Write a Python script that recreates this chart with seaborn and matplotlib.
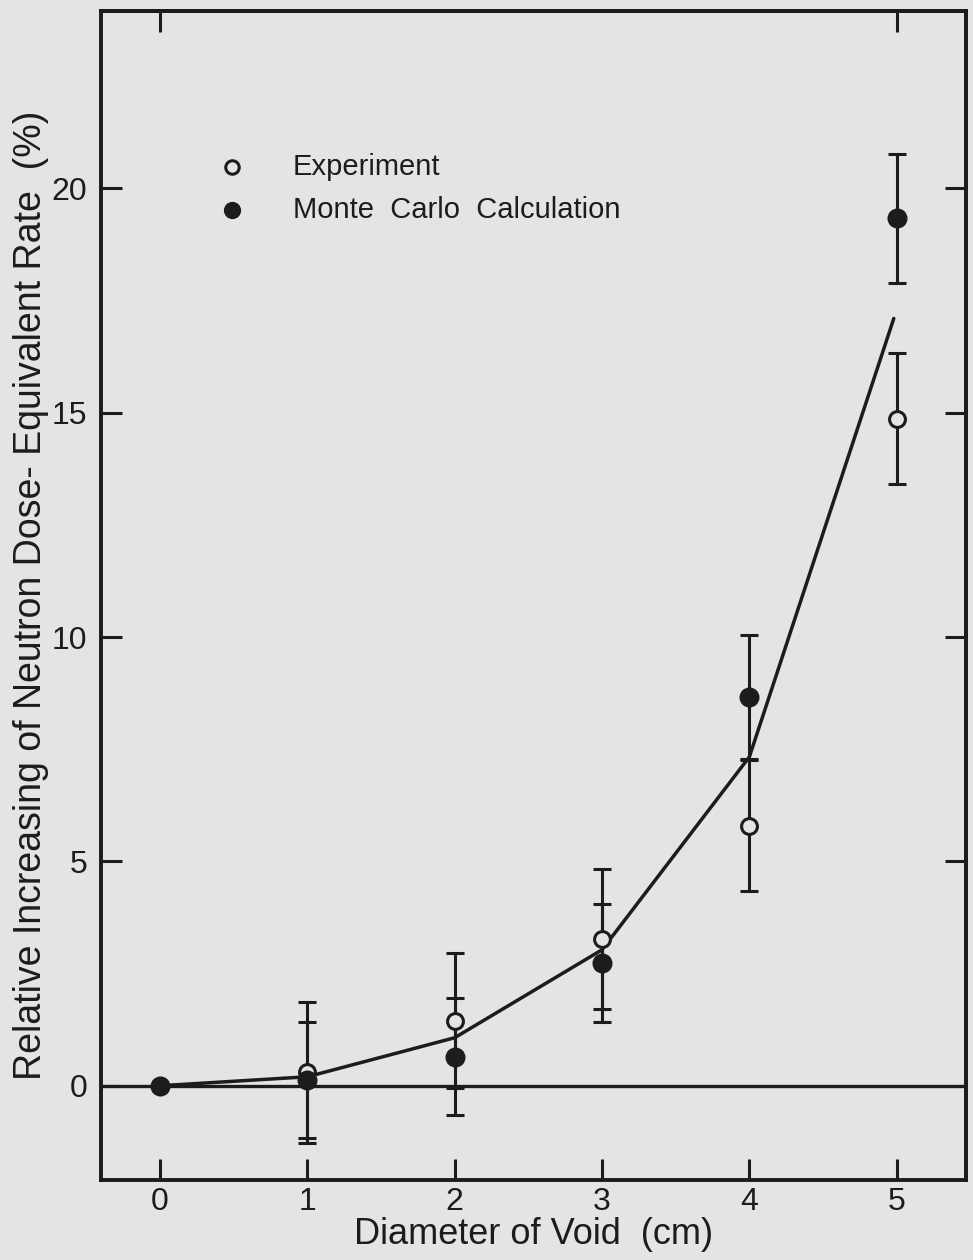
import matplotlib
matplotlib.use("Agg")
import matplotlib.pyplot as plt
import seaborn as sns
import pandas as pd

# values
diameter = [0, 1, 2, 3, 4, 5]
experiment = [0, 0.30, 1.45, 3.27, 5.80, 14.86]
experiment_err = [0, 1.57, 1.51, 1.56, 1.47, 1.46]
monte_carlo = [0, 0.13, 0.65, 2.74, 8.66, 19.33]
monte_carlo_err = [0, 1.30, 1.30, 1.31, 1.38, 1.44]
curve_x = [0, 1, 2, 3, 4, 4.98]
curve_y = [0, 0.20, 1.07, 3.03, 7.33, 17.1]

x_ticks = [0, 1, 2, 3, 4, 5]
y_ticks = [0, 5, 10, 15, 20]

ink = "#1c1c1c"
paper = "#e4e4e2"

sns.set_style("ticks")
plt.rcParams["font.family"] = ["Liberation Sans", "DejaVu Sans"]
plt.rcParams["text.color"] = ink
plt.rcParams["axes.labelcolor"] = ink
plt.rcParams["xtick.color"] = ink
plt.rcParams["ytick.color"] = ink

fig = plt.figure(figsize=(9.73, 12.6), dpi=100, facecolor=paper)
ax = fig.add_axes([0.1038, 0.0635, 0.889, 0.9277])
ax.set_facecolor(paper)

df_exp = pd.DataFrame({"d": diameter, "v": experiment, "e": experiment_err})
df_mc = pd.DataFrame({"d": diameter, "v": monte_carlo, "e": monte_carlo_err})
df_curve = pd.DataFrame({"x": curve_x, "y": curve_y})

ax.axhline(0, color=ink, lw=2.4, zorder=1)

# error bars (skip the origin point, which has none)
for df in (df_exp, df_mc):
    sub = df[df["e"] > 0]
    ax.errorbar(sub["d"], sub["v"], yerr=sub["e"], fmt="none", ecolor=ink,
                elinewidth=2.2, capsize=6.5, capthick=2.2, zorder=2)

sns.lineplot(data=df_curve, x="x", y="y", ax=ax, color=ink, lw=2.5,
             sort=False, zorder=3, legend=False)

sns.scatterplot(data=df_exp, x="d", y="v", ax=ax, marker="o", s=130,
                facecolor=paper, edgecolor=ink, linewidth=2.2, zorder=4,
                label="Experiment")
sns.scatterplot(data=df_mc, x="d", y="v", ax=ax, marker="o", s=180,
                color=ink, edgecolor=ink, linewidth=1.0, zorder=5,
                label="Monte  Carlo  Calculation")

ax.set_xlim(-0.40, 5.47)
ax.set_ylim(-2.1, 23.95)
ax.set_xticks(x_ticks)
ax.set_yticks(y_ticks)
ax.tick_params(direction="in", length=15, width=2.2, labelsize=23, pad=10)
ax.tick_params(axis="x", pad=5)

# ticks on the opposite sides as in the original frame
ax_r = ax.secondary_yaxis("right")
ax_r.set_yticks([5, 10, 15, 20])
ax_r.tick_params(direction="in", length=15, width=2.2, labelright=False)
ax_t = ax.secondary_xaxis("top")
ax_t.set_xticks([0, 5])
ax_t.tick_params(direction="in", length=15, width=2.2, labeltop=False)
for a in (ax, ax_r, ax_t):
    for sp in a.spines.values():
        sp.set_linewidth(2.8)
        sp.set_color(ink)

ax.set_xlabel("Diameter of Void  (cm)", fontsize=26, labelpad=0)
ax.set_ylabel("Relative Increasing of Neutron Dose- Equivalent Rate  (%)",
              fontsize=27, labelpad=2)

ax.legend(loc="upper left", bbox_to_anchor=(0.087, 0.901), frameon=False,
          fontsize=21, handletextpad=1.1, labelspacing=0.5, markerscale=0.85)

fig.savefig("out.png", dpi=100, facecolor=paper)
